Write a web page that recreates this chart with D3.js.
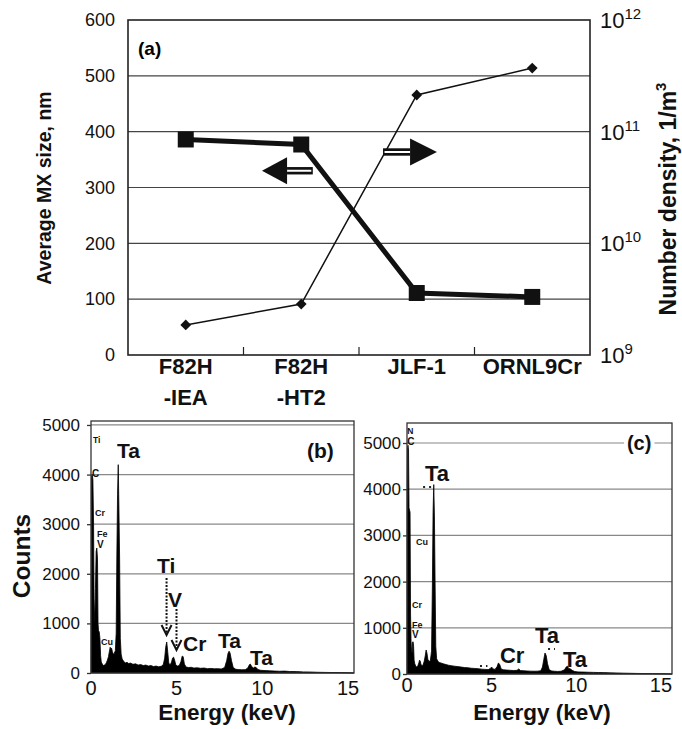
<!DOCTYPE html>
<html><head><meta charset="utf-8">
<script src="https://cdn.jsdelivr.net/npm/d3@7"></script>
<style>body{margin:0;background:#fff} svg{display:block}</style>
</head><body><svg id="c" width="682" height="729"></svg>
<script>
// ---------------- DATA ----------------
const categories = [["F82H","-IEA"],["F82H","-HT2"],["JLF-1"],["ORNL9Cr"]];
const mxSize = [386, 377, 111, 104];                 // nm (left axis)
const numberDensity = [1.86e9, 2.86e9, 2.13e11, 3.71e11]; // 1/m^3 (right axis, log)
const leftTicks = [0, 100, 200, 300, 400, 500, 600];
const rightTickExps = [9, 10, 11, 12];
const countTicks = [0, 1000, 2000, 3000, 4000, 5000];
const energyTicks = [0, 5, 10, 15];

// EDS spectrum (b): [energy keV, counts]
const spectrumB = [[0,0],[0.01,1700],[0.03,3950],[0.07,4000],[0.11,3900],[0.15,3000],[0.18,1500],[0.22,1000],[0.26,1700],[0.3,2450],[0.34,2520],[0.38,2300],[0.41,1000],[0.44,850],[0.48,830],[0.52,700],[0.56,350],[0.6,220],[0.66,180],[0.72,150],[0.78,160],[0.84,170],[0.9,210],[0.96,260],[1.02,330],[1.08,450],[1.12,520],[1.16,470],[1.2,500],[1.25,430],[1.3,380],[1.36,400],[1.42,450],[1.47,800],[1.51,2400],[1.55,3600],[1.59,4200],[1.63,3300],[1.67,2300],[1.71,700],[1.76,380],[1.82,280],[1.9,240],[2.0,200],[2.1,215],[2.2,190],[2.3,200],[2.45,175],[2.6,185],[2.75,160],[2.9,170],[3.05,150],[3.2,160],[3.35,140],[3.5,150],[3.65,130],[3.8,140],[3.95,125],[4.1,135],[4.22,170],[4.3,300],[4.36,520],[4.42,625],[4.48,420],[4.54,200],[4.62,160],[4.7,220],[4.76,300],[4.82,320],[4.88,260],[4.95,160],[5.05,140],[5.15,150],[5.25,230],[5.32,340],[5.38,330],[5.45,180],[5.55,120],[5.7,110],[5.85,115],[6.0,100],[6.2,105],[6.4,95],[6.6,100],[6.8,88],[7.0,92],[7.2,85],[7.4,88],[7.6,80],[7.8,110],[7.92,250],[8.0,400],[8.06,440],[8.12,400],[8.2,250],[8.3,110],[8.45,75],[8.6,70],[8.8,65],[9.0,68],[9.15,100],[9.25,170],[9.3,180],[9.38,130],[9.48,100],[9.56,120],[9.64,110],[9.74,70],[9.9,55],[10.1,50],[10.4,45],[10.7,40],[11.0,35],[11.3,38],[11.6,30],[12.0,28],[12.4,22],[12.8,20],[13.2,15],[13.6,12],[14.0,10],[14.5,8],[15.0,5],[15.35,0]];

// EDS spectrum (c)
const spectrumC = [[0,0],[0.01,3600],[0.03,4900],[0.06,4950],[0.09,4850],[0.12,3600],[0.15,3550],[0.18,3500],[0.21,1300],[0.24,700],[0.27,500],[0.3,450],[0.33,690],[0.36,700],[0.39,600],[0.42,300],[0.46,220],[0.52,170],[0.58,150],[0.64,180],[0.7,240],[0.74,300],[0.78,280],[0.83,200],[0.9,180],[0.96,210],[1.02,280],[1.08,400],[1.13,520],[1.18,450],[1.23,320],[1.3,270],[1.38,290],[1.45,500],[1.5,1950],[1.54,3500],[1.58,4100],[1.62,3400],[1.66,1950],[1.7,600],[1.75,330],[1.82,280],[1.9,250],[2.0,240],[2.15,220],[2.3,205],[2.45,190],[2.6,180],[2.8,170],[3.0,160],[3.2,150],[3.4,140],[3.6,135],[3.8,125],[4.0,120],[4.2,115],[4.4,105],[4.6,100],[4.8,95],[4.92,120],[5.0,150],[5.08,110],[5.2,100],[5.32,160],[5.4,240],[5.48,200],[5.56,110],[5.7,90],[5.9,85],[6.1,80],[6.3,75],[6.5,80],[6.6,110],[6.7,75],[6.9,70],[7.1,65],[7.3,62],[7.5,60],[7.7,62],[7.9,70],[8.0,150],[8.08,320],[8.15,455],[8.22,400],[8.3,220],[8.4,90],[8.55,65],[8.7,60],[8.9,55],[9.1,60],[9.3,90],[9.4,150],[9.47,170],[9.55,120],[9.65,110],[9.75,80],[9.9,55],[10.1,45],[10.4,42],[10.7,38],[11.0,35],[11.3,32],[11.6,30],[12.0,25],[12.4,22],[12.8,18],[13.2,15],[13.6,12],[14.0,10],[14.5,8],[15.0,6],[15.65,0]];

// peak labels: text, energy (left edge), counts (baseline), font size
const labelsB = [["Ti",0.12,4637,8.5],["C",0.06,3952,10],["Cr",0.23,3165,9],["Fe",0.35,2742,9],["V",0.35,2520,10],["Cu",0.58,565,9],
  ["Ta",1.52,4335,21],["Ti",3.85,2016,21],["V",4.5,1331,21],["Cr",5.37,444,21],["Ta",7.41,504,21],["Ta",9.28,161,21],["(b)",12.61,4335,21]];
const labelsC = [["N",0.02,5195,8.5],["C",0.02,4957,10],["Cu",0.53,2792,9],["Cr",0.3,1429,9],["Fe",0.3,1000,9],["V",0.3,770,10],
  ["Ta",1.06,4177,22],["Cr",5.49,238,22],["Ta",7.56,671,22],["Ta",9.21,152,22]];
const arrowsB = [[4.41,1915,766],[4.99,1290,464]]; // energy, from counts, to counts
const dotsC = [[0.95,1.48,4048],[8.33,8.74,541],[4.31,4.75,173]];

// ---------------- DRAW ----------------
const F = '"Liberation Sans", Arial, Helvetica, sans-serif';
const svg = d3.select("#c").attr("font-family", F);

// ===== Panel (a) =====
const A = {l:128, r:590, t:20, b:355};
const xCat = d3.scaleBand().domain(d3.range(categories.length)).range([A.l, A.r]).padding(0);
const xPos = d3.scaleLinear().domain([-0.5, categories.length - 0.5]).range([A.l, A.r]);
const yL = d3.scaleLinear().domain([0, 600]).range([A.b, A.t]);
const yR = d3.scaleLog().domain([1e9, 1e12]).range([A.b, A.t]);
const gA = svg.append("g");

gA.selectAll("line.grid").data(leftTicks.filter(v => v > 0 && v < 600)).join("line")
  .attr("x1", A.l).attr("x2", A.r).attr("y1", d => yL(d)).attr("y2", d => yL(d))
  .attr("stroke", "#444").attr("stroke-width", 1.2);
gA.append("rect").attr("x", A.l).attr("y", A.t).attr("width", A.r - A.l).attr("height", A.b - A.t)
  .attr("fill", "none").attr("stroke", "#222").attr("stroke-width", 1.6);
gA.selectAll("line.xt").data(d3.range(1, categories.length)).join("line")
  .attr("x1", d => xPos(d - 0.5)).attr("x2", d => xPos(d - 0.5)).attr("y1", A.b).attr("y2", A.b - 8)
  .attr("stroke", "#222").attr("stroke-width", 1.2);

gA.append("g").attr("transform", `translate(${A.l},0)`)
  .call(d3.axisLeft(yL).tickValues(leftTicks).tickSize(0).tickPadding(13).tickFormat(d3.format("d")))
  .call(g => g.select(".domain").remove())
  .attr("font-family", F).attr("font-size", 18)
  .selectAll("text").attr("fill", "#111");

// right log labels
const rl = gA.selectAll("text.rl").data(rightTickExps).join("text")
  .attr("x", A.r + 10).attr("y", d => yR(Math.pow(10, d)) + 8)
  .attr("font-size", 22).attr("fill", "#111");
rl.append("tspan").text("10");
rl.append("tspan").attr("font-size", 15).attr("dy", -9).text(d => d);

// category labels
const cl = gA.selectAll("text.cl").data(categories).join("text")
  .attr("text-anchor", "middle").attr("font-size", 22).attr("font-weight", "bold").attr("fill", "#111");
cl.each(function(d, i) {
  const t = d3.select(this);
  d.forEach((s, j) => t.append("tspan").attr("x", xCat(i) + xCat.bandwidth() / 2).attr("y", 374 + j * 31).text(s));
});

// thin line: number density
gA.append("path").datum(numberDensity)
  .attr("d", d3.line().x((d, i) => xCat(i) + xCat.bandwidth() / 2).y(d => yR(d)))
  .attr("fill", "none").attr("stroke", "#111").attr("stroke-width", 1.5);
gA.selectAll("path.dia").data(numberDensity).join("path")
  .attr("transform", (d, i) => `translate(${xCat(i) + xCat.bandwidth() / 2},${yR(d)}) rotate(45)`)
  .attr("d", d3.symbol(d3.symbolSquare, 58)()).attr("fill", "#111");

// thick line: MX size
gA.append("path").datum(mxSize)
  .attr("d", d3.line().x((d, i) => xCat(i) + xCat.bandwidth() / 2).y(d => yL(d)))
  .attr("fill", "none").attr("stroke", "#111").attr("stroke-width", 5);
gA.selectAll("path.sq").data(mxSize).join("path")
  .attr("transform", (d, i) => `translate(${xCat(i) + xCat.bandwidth() / 2},${yL(d)})`)
  .attr("d", d3.symbol(d3.symbolSquare, 256)()).attr("fill", "#111");

// double-shaft arrows
function dblArrow(xTail, xBase, xTip, yVal) {
  const y = yL(yVal);
  const x0 = xPos(xTail), x1 = xPos(xBase), x2 = xPos(xTip);
  gA.append("rect").attr("x", Math.min(x0, x1)).attr("y", y - 3.7).attr("width", Math.abs(x1 - x0)).attr("height", 7.4).attr("fill", "#111");
  gA.append("line").attr("x1", x0 + (x1 > x0 ? 1.5 : -1.5)).attr("x2", x1).attr("y1", y).attr("y2", y).attr("stroke", "#fff").attr("stroke-width", 2);
  gA.append("path").attr("d", `M${x1},${y - 13.5}L${x2},${y}L${x1},${y + 13.5}Z`).attr("fill", "#111");
}
dblArrow(1.10, 0.877, 0.66, 330);
dblArrow(1.708, 1.942, 2.175, 363.6);

gA.append("text").attr("x", xPos(-0.413)).attr("y", yL(537)).attr("font-size", 19).attr("font-weight", "bold").text("(a)");

gA.append("text").attr("transform", "translate(51,188) rotate(-90)").attr("text-anchor", "middle")
  .attr("font-size", 19.5).attr("font-weight", "bold").attr("fill", "#111").text("Average MX size, nm");
const rt = gA.append("text").attr("transform", "translate(676,199) rotate(-90)").attr("text-anchor", "middle")
  .attr("font-size", 23).attr("font-weight", "bold").attr("fill", "#111");
rt.append("tspan").text("Number density, 1/m");
rt.append("tspan").attr("font-size", 15).attr("dy", -10).text("3");

// ===== Spectrum panels =====
function panel(P, xS, yS, spec, labels, opt) {
  const g = svg.append("g");
  g.selectAll("line.grid").data(countTicks.filter(v => v > 0)).join("line")
    .attr("x1", P.l).attr("x2", P.r).attr("y1", d => yS(d)).attr("y2", d => yS(d))
    .attr("stroke", "#888").attr("stroke-width", 1.2);
  g.append("path").datum(spec)
    .attr("d", d3.area().x(d => xS(d[0])).y0(yS(0)).y1(d => yS(d[1])))
    .attr("fill", "#000").attr("stroke", "#000").attr("stroke-width", 0.8);
  g.append("rect").attr("x", P.l).attr("y", P.t).attr("width", P.r - P.l).attr("height", P.b - P.t)
    .attr("fill", "none").attr("stroke", "#333").attr("stroke-width", 1.3);
  g.append("g").attr("transform", `translate(${P.l},0)`)
    .call(d3.axisLeft(yS).tickValues(countTicks).tickSize(4).tickPadding(opt.yPad).tickSizeOuter(0).tickFormat(d3.format("d")))
    .call(a => a.select(".domain").remove())
    .attr("font-family", F).attr("font-size", 17)
    .call(a => a.selectAll("line").attr("stroke", "#333").attr("stroke-width", 1.3))
    .selectAll("text").attr("fill", "#111");
  g.selectAll("text.xl").data(energyTicks).join("text")
    .attr("x", d => xS(d)).attr("y", opt.xBase).attr("text-anchor", "middle")
    .attr("font-size", 20).attr("fill", "#111").text(d => d);
  g.append("text").attr("x", opt.titleX).attr("y", 720).attr("text-anchor", "middle")
    .attr("font-size", 22.5).attr("font-weight", "bold").attr("fill", "#111").text("Energy (keV)");
  g.selectAll("text.pl").data(labels).join("text")
    .attr("x", d => xS(d[1])).attr("y", d => yS(d[2]))
    .attr("font-size", d => d[3]).attr("font-weight", "bold").attr("fill", "#111").text(d => d[0]);
  return g;
}

const Bp = {l:91, r:354, t:421, b:673};
const xB = d3.scaleLinear().domain([0, 15.35]).range([Bp.l, Bp.r]);
const yB = d3.scaleLinear().domain([0, 5080]).range([Bp.b, Bp.t]);
const gB = panel(Bp, xB, yB, spectrumB, labelsB, {yPad: 7, xBase: 695, titleX: 227});
gB.append("text").attr("transform", "translate(30,556) rotate(-90)").attr("text-anchor", "middle")
  .attr("font-size", 24.5).attr("font-weight", "bold").attr("fill", "#111").text("Counts");
arrowsB.forEach(([e, c0, c1]) => {
  const x = xB(e), y0 = yB(c0), y1 = yB(c1);
  gB.append("line").attr("x1", x).attr("x2", x).attr("y1", y0).attr("y2", y1 - 2)
    .attr("stroke", "#111").attr("stroke-width", 2).attr("stroke-dasharray", "2,1.5");
  gB.append("path").attr("d", `M${x - 5},${y1 - 10}L${x},${y1}L${x + 5},${y1 - 10}`)
    .attr("fill", "none").attr("stroke", "#111").attr("stroke-width", 2);
});

const Cp = {l:407, r:672, t:423, b:674};
const xCs = d3.scaleLinear().domain([0, 15.65]).range([Cp.l, Cp.r]);
const yCs = d3.scaleLinear().domain([0, 5433]).range([Cp.b, Cp.t]);
const gC = panel(Cp, xCs, yCs, spectrumC, labelsC, {yPad: 2, xBase: 692, titleX: 542});
dotsC.forEach(([e0, e1, c]) => {
  gC.append("line").attr("x1", xCs(e0)).attr("x2", xCs(e1)).attr("y1", yCs(c)).attr("y2", yCs(c))
    .attr("stroke", "#222").attr("stroke-width", 1.8).attr("stroke-dasharray", "2,4");
});
const cLab = gC.append("text").attr("x", xCs(12.99)).attr("y", yCs(4848))
  .attr("font-size", 20).attr("font-weight", "bold").attr("fill", "#111").text("(c)");
const bb = cLab.node().getBBox();
gC.insert("rect", () => cLab.node()).attr("x", bb.x - 3).attr("y", bb.y + 2).attr("width", bb.width + 6).attr("height", bb.height - 4).attr("fill", "#fff");
</script></body></html>
